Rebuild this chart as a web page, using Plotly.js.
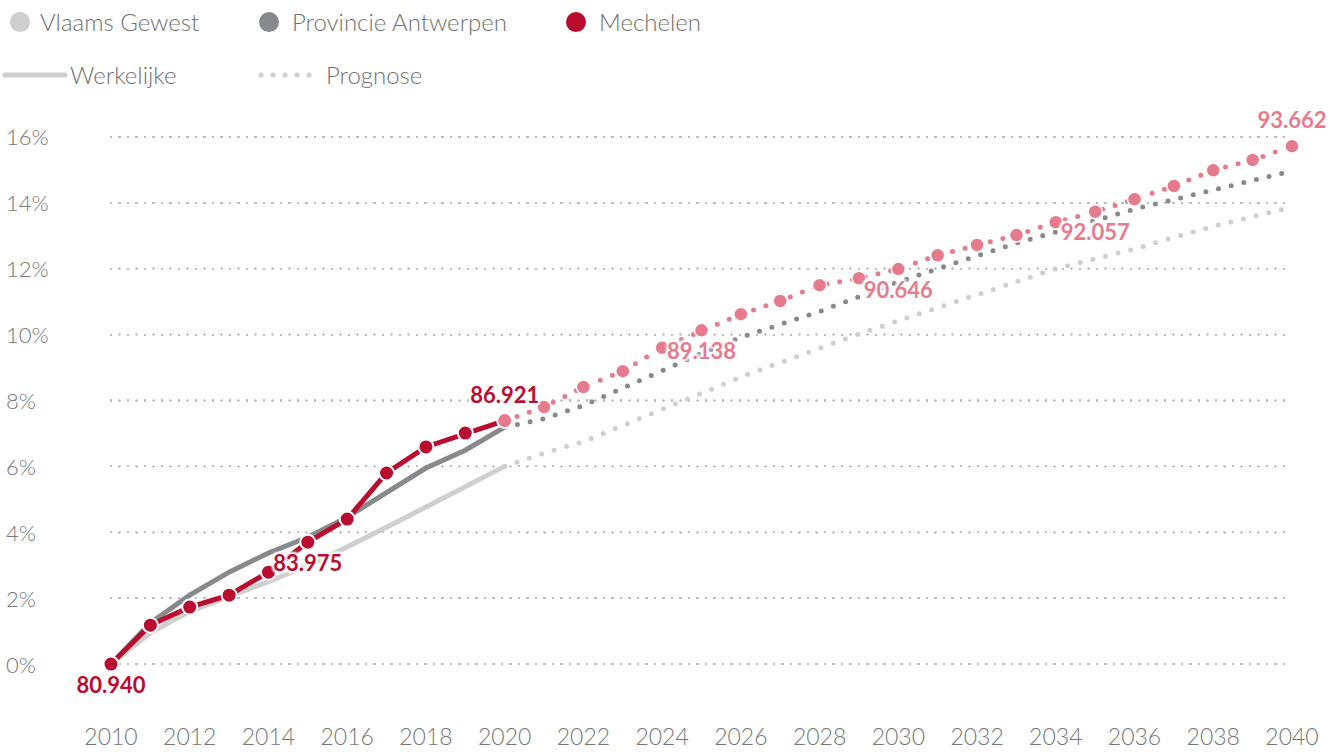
<!DOCTYPE html>
<html>
<head>
<meta charset="utf-8">
<script src="https://cdn.plot.ly/plotly-3.0.1.min.js"></script>
<style>
  html, body { margin: 0; padding: 0; background: #fff; }
  #chart { width: 1341px; height: 752px; }
  .js-line { stroke-linecap: round !important; }
  .ygrid { stroke-linecap: round !important; }
</style>
</head>
<body>
<div id="chart"></div>
<script>
// ---- data (growth in % vs 2010) ----
const actualYears = [2010, 2011, 2012, 2013, 2014, 2015, 2016, 2017, 2018, 2019, 2020];
const forecastYears = [2020, 2021, 2022, 2023, 2024, 2025, 2026, 2027, 2028, 2029, 2030,
                       2031, 2032, 2033, 2034, 2035, 2036, 2037, 2038, 2039, 2040];

const vlaamsActual = [0, 0.95, 1.6, 2.05, 2.5, 3.0, 3.55, 4.15, 4.78, 5.4, 6.0];
const vlaamsForecast = [6.0, 6.4, 6.75, 7.25, 7.73, 8.22, 8.71, 9.15, 9.6, 10.02, 10.42,
                        10.82, 11.23, 11.62, 12.0, 12.3, 12.6, 12.95, 13.29, 13.58, 13.87];

const antwerpenActual = [0, 1.25, 2.09, 2.79, 3.37, 3.85, 4.46, 5.22, 5.95, 6.49, 7.19];
const antwerpenForecast = [7.19, 7.45, 7.85, 8.38, 8.93, 9.43, 9.92, 10.3, 10.7, 11.15, 11.6,
                           12.0, 12.4, 12.78, 13.11, 13.46, 13.81, 14.1, 14.39, 14.68, 14.97];

const mechelenActual = [0, 1.18, 1.73, 2.09, 2.79, 3.70, 4.40, 5.80, 6.59, 7.01, 7.39];
const mechelenForecast = [7.39, 7.80, 8.41, 8.89, 9.60, 10.13, 10.62, 11.02, 11.50, 11.71, 11.99,
                          12.41, 12.72, 13.02, 13.41, 13.73, 14.11, 14.51, 14.99, 15.30, 15.72];

const labelYears = [2010, 2015, 2020, 2025, 2030, 2035, 2040];
const labelTexts = ["80.940", "83.975", "86.921", "89.138", "90.646", "92.057", "93.662"];

const seriesNames = ["Vlaams Gewest", "Provincie Antwerpen", "Mechelen"];
const styleNames = ["Werkelijke", "Prognose"];

const yTicks = [0, 2, 4, 6, 8, 10, 12, 14, 16];
const xTicks = [2010, 2012, 2014, 2016, 2018, 2020, 2022, 2024, 2026, 2028, 2030,
                2032, 2034, 2036, 2038, 2040];

// ---- styling ----
const RED = "#BA0C2F", PINK = "#E77B8E", GRAY = "#87898C", LGRAY = "#CFCFCF";
const FONT = "Lato, 'Open Sans', sans-serif";
const DOT = "0px,13px";
const HALO = "2px 2px 2px #fff, -2px -2px 2px #fff, 2px -2px 2px #fff, -2px 2px 2px #fff";

function mechelenAt(y) {
  const i = actualYears.indexOf(y);
  if (i >= 0 && y !== 2020) return mechelenActual[i];
  return mechelenForecast[forecastYears.indexOf(y)];
}

const traces = [];
traces.push({x: actualYears, y: vlaamsActual, mode: "lines", line: {color: LGRAY, width: 5}, showlegend: false, hoverinfo: "skip"});
traces.push({x: forecastYears, y: vlaamsForecast, mode: "lines", line: {color: LGRAY, width: 5, dash: DOT}, showlegend: false, hoverinfo: "skip"});
traces.push({x: actualYears, y: antwerpenActual, mode: "lines", line: {color: GRAY, width: 5}, showlegend: false, hoverinfo: "skip"});
traces.push({x: forecastYears, y: antwerpenForecast, mode: "lines", line: {color: GRAY, width: 5, dash: DOT}, showlegend: false, hoverinfo: "skip"});
traces.push({x: forecastYears, y: mechelenForecast, mode: "lines+markers", cliponaxis: false,
  line: {color: PINK, width: 5, dash: DOT},
  marker: {color: PINK, size: 14, line: {color: "#fff", width: 1.5}}, showlegend: false, hoverinfo: "skip"});
traces.push({x: actualYears, y: mechelenActual, mode: "lines+markers", cliponaxis: false,
  line: {color: RED, width: 5},
  marker: {color: actualYears.map(y => y === 2020 ? PINK : RED), size: 15, line: {color: "#fff", width: 2}},
  showlegend: false, hoverinfo: "skip"});
traces.push({x: labelYears, y: labelYears.map(mechelenAt), mode: "markers+text", cliponaxis: false,
  marker: {size: 18, opacity: 0},
  text: labelTexts,
  textposition: labelYears.map(y => (y === 2020 || y === 2040) ? "top center" : "bottom center"),
  textfont: {family: FONT, size: 22, weight: 700, shadow: HALO,
             color: labelYears.map(y => y <= 2020 ? RED : PINK)},
  showlegend: false, hoverinfo: "skip"});

const legendColors = [LGRAY, GRAY, RED];
seriesNames.forEach((n, i) => {
  traces.push({x: [null], y: [null], mode: "markers", name: n,
    marker: {color: legendColors[i], size: 21, line: {color: legendColors[i], width: 4}},
    legend: "legend" + (i === 0 ? "" : (i + 1))});
});
traces.push({x: [null], y: [null], mode: "lines", name: styleNames[0],
  line: {color: LGRAY, width: 5}, legend: "legend4"});
traces.push({x: [null], y: [null], mode: "lines", name: styleNames[1],
  line: {color: LGRAY, width: 5, dash: "0px,12px"}, legend: "legend5"});

function leg(xpx, ypx, iw) {
  const o = {orientation: "h", xref: "container", yref: "container",
    x: xpx / 1341, y: 1 - ypx / 752, xanchor: "left", yanchor: "top",
    font: {family: FONT, size: 24, weight: 300, color: "#707070"}, bgcolor: "rgba(0,0,0,0)",
    itemclick: false, itemdoubleclick: false};
  if (iw) o.itemwidth = iw;
  return o;
}

const annotations = yTicks.map(t => ({
  xref: "paper", yref: "y", x: (4 - 111) / 1181, y: t, xanchor: "left", yanchor: "middle",
  text: t + "%", showarrow: false, font: {family: FONT, size: 22, weight: 300, color: "#777"}
}));

const layout = {
  width: 1341, height: 752,
  margin: {l: 111, r: 49, t: 104, b: 55},
  paper_bgcolor: "#fff", plot_bgcolor: "#fff",
  font: {family: FONT},
  xaxis: {range: [2010, 2040], tickvals: xTicks, ticktext: xTicks.map(String),
    showgrid: false, zeroline: false, showline: false, ticks: "",
    ticklabelstandoff: 24, tickfont: {family: FONT, size: 23, weight: 300, color: "#777"}},
  yaxis: {range: [-1, 17], tickvals: yTicks, showticklabels: false,
    showgrid: true, gridcolor: "#BDBDBD", gridwidth: 2.5, griddash: "0px,8.5px",
    zeroline: false, showline: false, ticks: ""},
  legend: leg(-4, 0),
  legend2: leg(246, 0, 36),
  legend3: leg(553, 0, 36),
  legend4: leg(-3, 53, 60),
  legend5: leg(256, 53, 60),
  annotations: annotations,
  showlegend: true
};

Plotly.newPlot("chart", traces, layout, {displayModeBar: false, staticPlot: true});
</script>
</body>
</html>
